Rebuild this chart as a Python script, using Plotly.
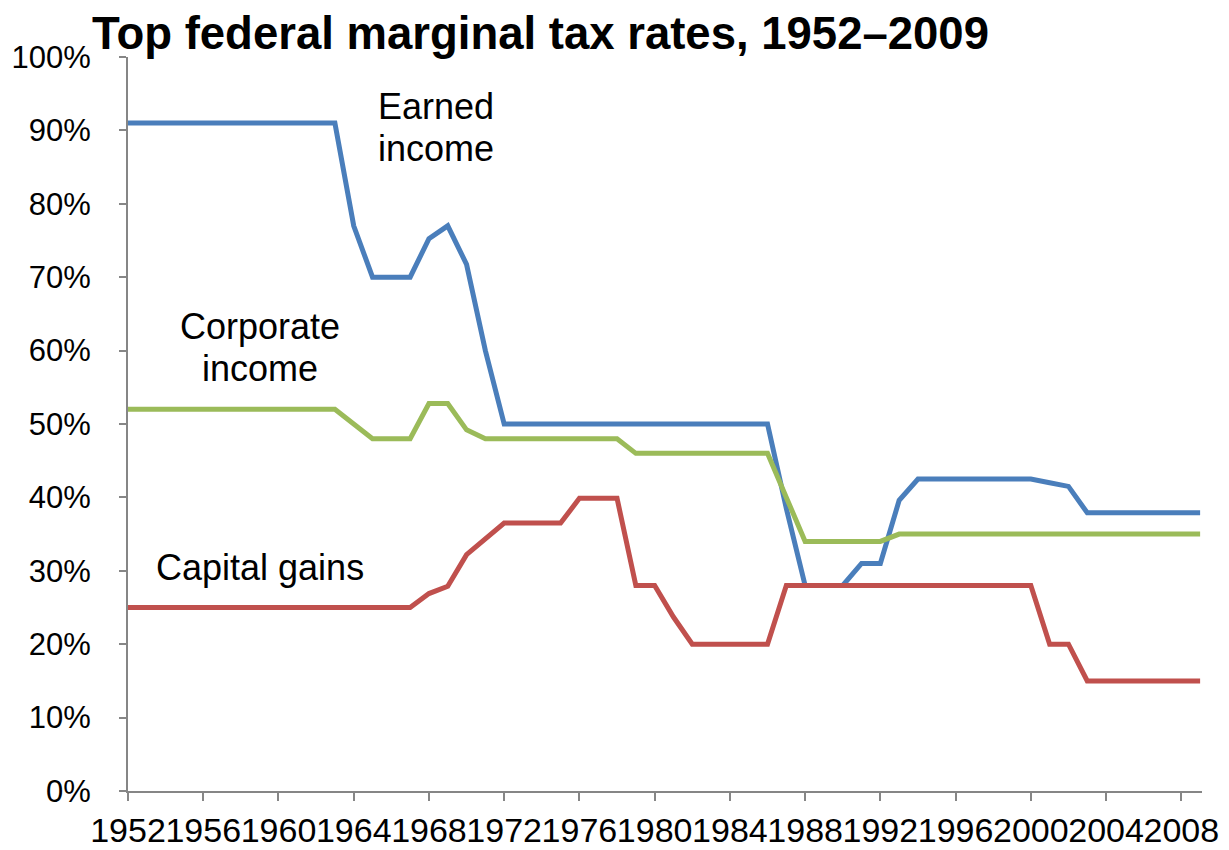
import plotly.graph_objects as go

years = list(range(1952, 2010))

earned = [91]*12 + [77, 70, 70, 70, 75.25, 77, 71.75, 60] + [50]*15 + [38.5, 28, 28, 28, 31, 31, 39.6] + [42.5]*7 + [42.0, 41.5] + [37.9]*7
corporate = [52]*12 + [50, 48, 48, 48, 52.8, 52.8, 49.2] + [48]*8 + [46]*8 + [40] + [34]*5 + [35]*17
capital = [25]*16 + [26.9, 27.9, 32.2, 34.25] + [36.5]*4 + [39.875]*3 + [28, 28, 23.7] + [20]*5 + [28]*14 + [20, 20] + [15]*7

tick_years = list(range(1952, 2010, 4))
y_ticks = list(range(0, 101, 10))

series = [
    ("Earned income", earned, "#4A7EBB"),
    ("Corporate income", corporate, "#9BBB59"),
    ("Capital gains", capital, "#C0504D"),
]

FONT = "Liberation Sans, Arial, sans-serif"

fig = go.Figure()
for name, vals, color in series:
    fig.add_trace(go.Scatter(x=years, y=vals, mode="lines", name=name,
                             line=dict(color=color, width=5), showlegend=False))

labels = [
    ("Earned", 1968.4, 93.25),
    ("income", 1968.4, 87.55),
    ("Corporate", 1959.0, 63.3),
    ("income", 1959.0, 57.6),
    ("Capital gains", 1959.0, 30.4),
]
for text, x, y in labels:
    fig.add_annotation(x=x, y=y, text=text, showarrow=False,
                       font=dict(family=FONT, size=36, color="black"),
                       xanchor="center", yanchor="middle")

fig.update_layout(
    width=1229, height=850,
    paper_bgcolor="white", plot_bgcolor="white",
    margin=dict(l=120, r=35, t=49, b=67, autoexpand=False),
    title=dict(text="<b>Top federal marginal tax rates, 1952–2009</b>",
               font=dict(family=FONT, size=45.5, color="black"),
               xref="container", yref="container",
               x=84/1229, xanchor="left", y=1-25/850, yanchor="middle"),
    font=dict(family=FONT, color="black"),
)
fig.update_xaxes(range=[1952, 2009.1], tickvals=tick_years,
                 ticktext=[str(t) for t in tick_years],
                 tickfont=dict(family=FONT, size=34, color="black"),
                 tickangle=0,
                 showgrid=False, zeroline=False, showline=True,
                 linecolor="#868686", linewidth=2, automargin=False,
                 ticks="outside", ticklen=8, tickcolor="#868686", tickwidth=2)
fig.update_yaxes(range=[0, 100], tickvals=y_ticks,
                 ticktext=[f"{v}%" for v in y_ticks],
                 tickfont=dict(family=FONT, size=31, color="black"),
                 showgrid=False, zeroline=False, showline=True,
                 linecolor="#868686", linewidth=2, automargin=False,
                 ticks="outside", ticklen=7, tickcolor="#868686", tickwidth=2,
                 ticklabelstandoff=22)

fig.write_html("out.html")
